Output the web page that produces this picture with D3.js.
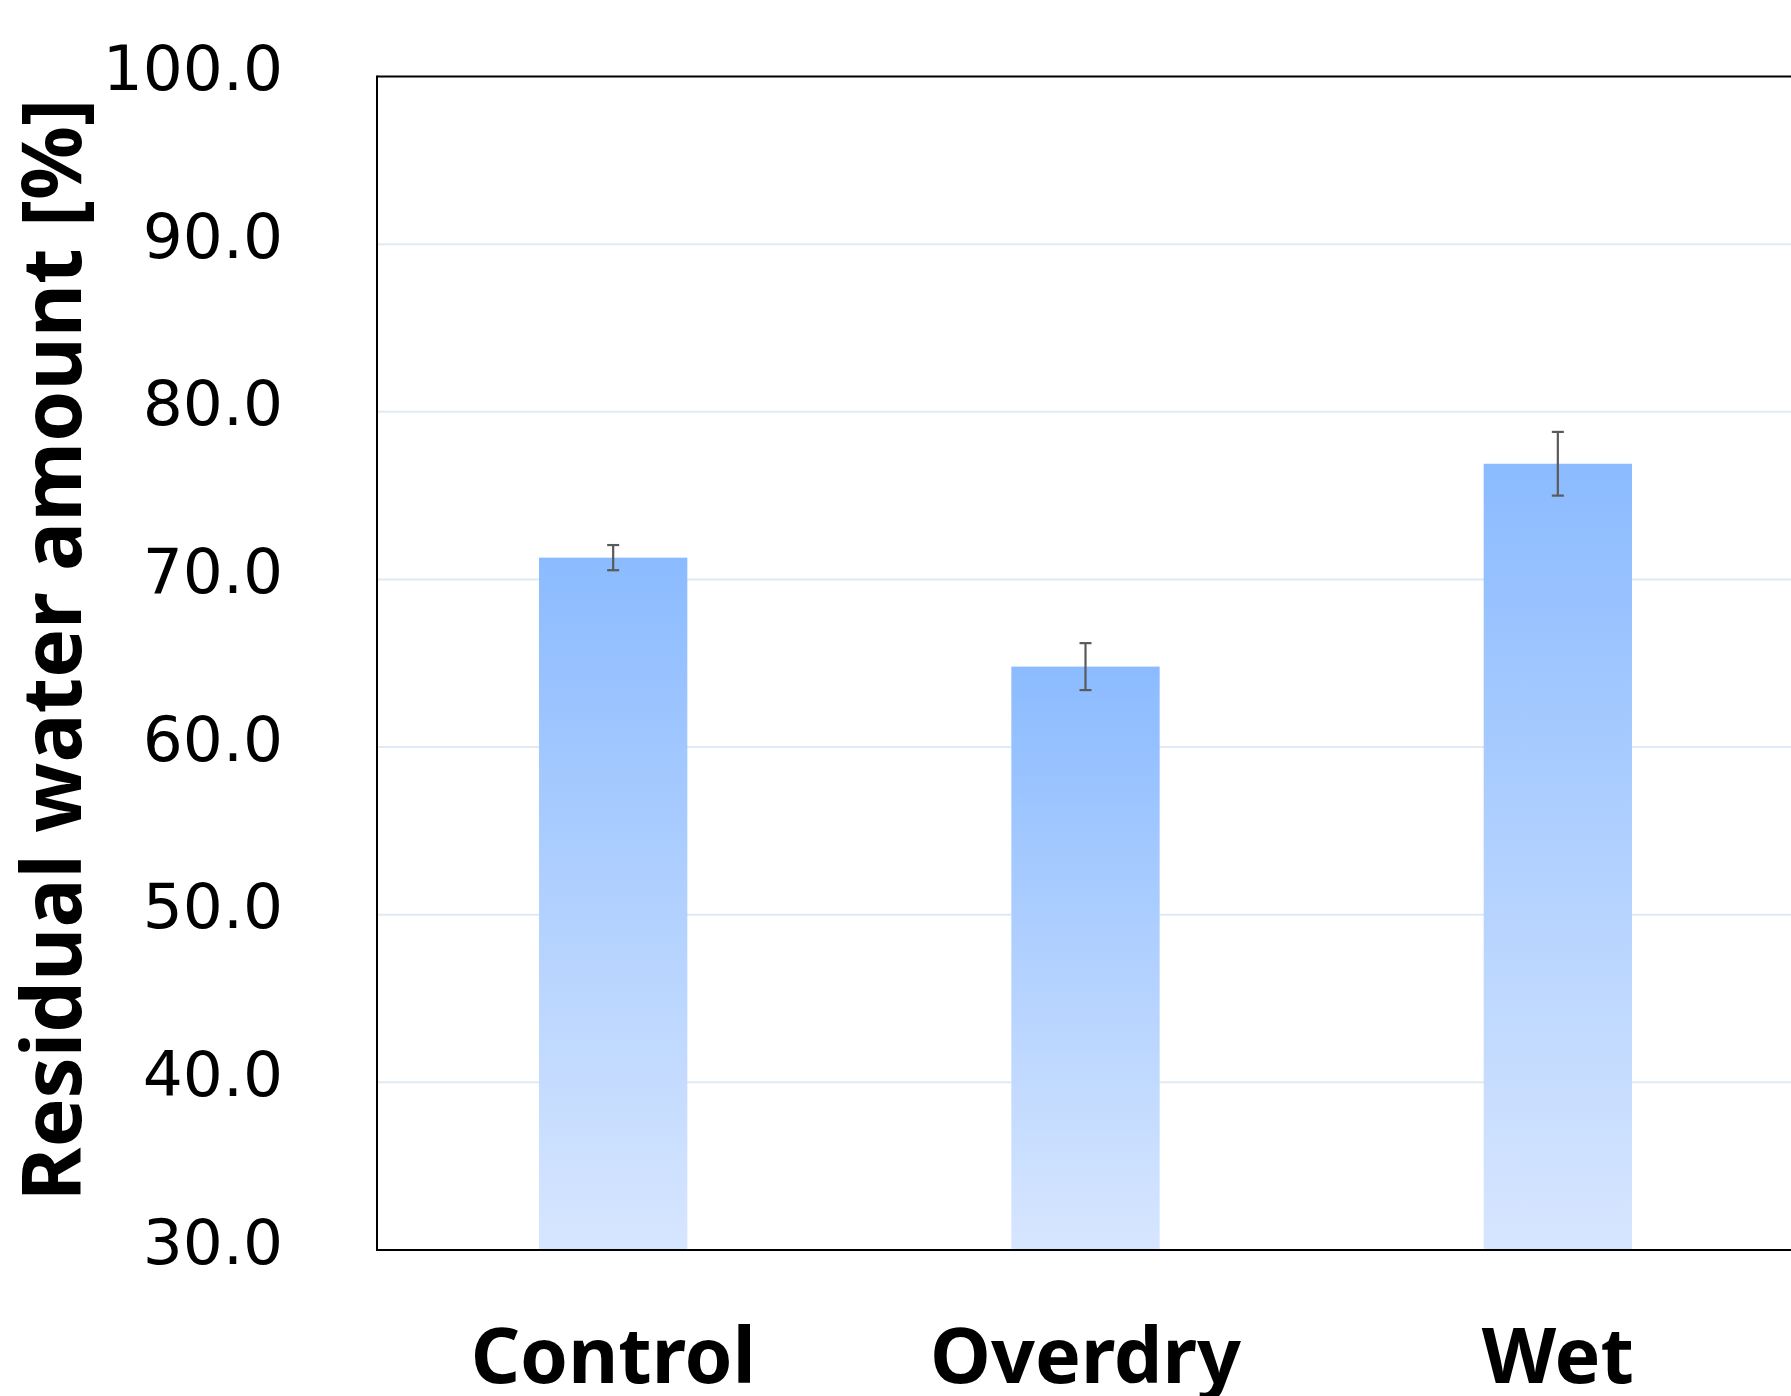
<!DOCTYPE html>
<html>
<head>
<meta charset="utf-8">
<script src="https://cdn.jsdelivr.net/npm/d3@7"></script>
<style>
  html, body { margin: 0; padding: 0; background: #fff; }
  svg { display: block; }
</style>
</head>
<body>
<svg id="chart" width="1791" height="1396"></svg>
<script>
const categories = ["Control", "Overdry", "Wet"];
const values = [71.3, 64.8, 76.9];
const errors = [0.75, 1.4, 1.9];
const yTicks = [30, 40, 50, 60, 70, 80, 90, 100];
const yTitle = "Residual water amount [%]";

const svg = d3.select("#chart");
const plot = { left: 377, right: 1794, top: 76.5, bottom: 1250 };

const x = d3.scaleBand().domain(categories).range([plot.left, plot.right])
  .paddingInner(0.686).paddingOuter(0.343);
const y = d3.scaleLinear().domain([30, 100]).range([plot.bottom, plot.top]);

const defs = svg.append("defs");
const grad = defs.append("linearGradient").attr("id", "barGrad")
  .attr("x1", 0).attr("y1", 0).attr("x2", 0).attr("y2", 1);
grad.append("stop").attr("offset", "0%").attr("stop-color", "#8bbbff");
grad.append("stop").attr("offset", "100%").attr("stop-color", "#d7e6ff");

// gridlines
svg.append("g").selectAll("line").data(yTicks.filter(t => t > 30 && t < 100)).join("line")
  .attr("x1", plot.left).attr("x2", 1791)
  .attr("y1", d => y(d)).attr("y2", d => y(d))
  .attr("stroke", "#dfeaf6").attr("stroke-width", 2);

// bars
svg.append("g").selectAll("rect").data(values).join("rect")
  .attr("x", (d, i) => x(categories[i]))
  .attr("width", x.bandwidth())
  .attr("y", d => y(d))
  .attr("height", d => y(30) - y(d))
  .attr("fill", "url(#barGrad)");

// error bars
const eg = svg.append("g").attr("stroke", "#5a5a5a").attr("stroke-width", 2.2);
values.forEach((v, i) => {
  const cx = x(categories[i]) + x.bandwidth() / 2;
  eg.append("line").attr("x1", cx).attr("x2", cx).attr("y1", y(v + errors[i])).attr("y2", y(v - errors[i]));
  [v + errors[i], v - errors[i]].forEach(e => {
    eg.append("line").attr("x1", cx - 6).attr("x2", cx + 6).attr("y1", y(e)).attr("y2", y(e));
  });
});

// frame
const fr = svg.append("g").attr("stroke", "#000").attr("stroke-width", 2).attr("fill", "none");
fr.append("line").attr("x1", plot.left).attr("x2", plot.left).attr("y1", plot.top - 1).attr("y2", plot.bottom + 1);
fr.append("line").attr("x1", plot.left).attr("x2", 1791).attr("y1", plot.top).attr("y2", plot.top);
fr.append("line").attr("x1", plot.left).attr("x2", 1791).attr("y1", plot.bottom).attr("y2", plot.bottom);

// y tick labels
const yAxis = d3.axisLeft(y).tickValues(yTicks).tickFormat(d3.format(".1f")).tickSize(0).tickPadding(0);
const ya = svg.append("g").attr("transform", "translate(283,0)").call(yAxis);
ya.select(".domain").remove();
ya.selectAll("text")
  .attr("font-family", "DejaVu Sans, Verdana, sans-serif")
  .attr("font-size", 63).attr("fill", "#000")
  .attr("dy", 13).attr("x", 0);

// x labels
const xAxis = d3.axisBottom(x).tickSize(0).tickPadding(0);
const xa = svg.append("g").attr("transform", "translate(0,1383)").call(xAxis);
xa.select(".domain").remove();
xa.selectAll("text")
  .attr("font-family", "Noto Sans, sans-serif").attr("font-weight", "bold")
  .attr("font-size", 77).attr("fill", "#000").attr("dy", 0).attr("y", 0);

// y title
svg.append("text")
  .attr("transform", "translate(81,650) rotate(-90)")
  .attr("text-anchor", "middle")
  .attr("font-family", "Noto Sans, sans-serif").attr("font-weight", "bold")
  .attr("font-size", 82).attr("fill", "#000")
  .text(yTitle);
</script>
</body>
</html>
